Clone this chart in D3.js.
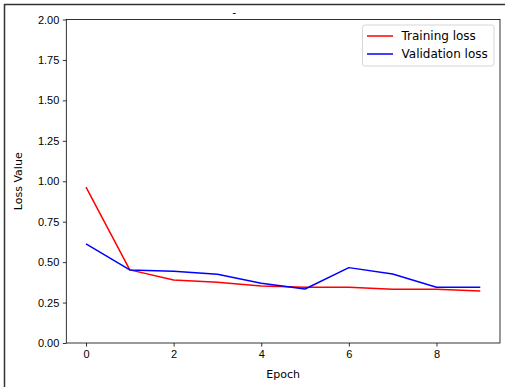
<!DOCTYPE html>
<html>
<head>
<meta charset="utf-8">
<script src="https://cdn.jsdelivr.net/npm/d3@7"></script>
<style>
  body { margin: 0; background: #fff; }
  svg { display: block; font-family: "DejaVu Sans", sans-serif; }
</style>
</head>
<body>
<svg id="chart" width="505" height="387"></svg>
<script>
// Data
const epochs = [0, 1, 2, 3, 4, 5, 6, 7, 8, 9];
const trainingLoss = [0.964, 0.452, 0.39, 0.375, 0.353, 0.345, 0.345, 0.332, 0.332, 0.322];
const validationLoss = [0.613, 0.452, 0.443, 0.425, 0.37, 0.334, 0.466, 0.427, 0.345, 0.345];
const xTicks = [0, 2, 4, 6, 8];
const yTicks = [0, 0.25, 0.5, 0.75, 1.0, 1.25, 1.5, 1.75, 2.0];

const series = [
    { name: "Training loss", values: trainingLoss, color: "#ff0000" },
    { name: "Validation loss", values: validationLoss, color: "#0000ff" }
];

const margin = { top: 19.5, right: 5, bottom: 44, left: 66.3 };
const W = 505, H = 387;
const width = W - margin.left - margin.right;
const height = H - margin.top - margin.bottom;

const svg = d3.select("#chart");

// outer frame (top and left edges visible)
svg.append("line").attr("x1", 4).attr("x2", W).attr("y1", 4.5).attr("y2", 4.5)
    .attr("stroke", "#333").attr("stroke-width", 1.5);
svg.append("line").attr("x1", 4.5).attr("x2", 4.5).attr("y1", 4).attr("y2", H)
    .attr("stroke", "#333").attr("stroke-width", 1.5);

const g = svg.append("g").attr("transform", `translate(${margin.left},${margin.top})`);

// matplotlib-style 5% margin on x
const x = d3.scaleLinear().domain([-0.45, 9.45]).range([0, width]);
const y = d3.scaleLinear().domain([0, 2]).range([height, 0]);

// lines
const line = d3.line().x((d, i) => x(epochs[i])).y(d => y(d));
series.forEach(s => {
    g.append("path")
        .datum(s.values)
        .attr("d", line)
        .attr("fill", "none")
        .attr("stroke", s.color)
        .attr("stroke-width", 1.5)
        .attr("stroke-linejoin", "round");
});

// axes
const xAxis = g.append("g")
    .attr("transform", `translate(0,${height})`)
    .call(d3.axisBottom(x).tickValues(xTicks).tickSize(3.5).tickPadding(3.5).tickFormat(d3.format("d")));
const yAxis = g.append("g")
    .call(d3.axisLeft(y).tickValues(yTicks).tickSize(3.5).tickPadding(3.5).tickFormat(d3.format(".2f")));
[xAxis, yAxis].forEach(a => {
    a.select(".domain").remove();
    a.selectAll("line").attr("stroke", "#000").attr("stroke-width", 0.8);
    a.selectAll("text").attr("fill", "#000").style("font-size", "11px");
});

// spines
g.append("rect")
    .attr("x", 0).attr("y", 0).attr("width", width).attr("height", height)
    .attr("fill", "none").attr("stroke", "#000").attr("stroke-width", 0.8);

// axis labels
svg.append("text")
    .attr("x", margin.left + width / 2).attr("y", 378)
    .attr("text-anchor", "middle").style("font-size", "11px")
    .text("Epoch");
svg.append("text")
    .attr("transform", `translate(22,${margin.top + height / 2}) rotate(-90)`)
    .attr("text-anchor", "middle").style("font-size", "11px")
    .text("Loss Value");

// tiny title mark
svg.append("text")
    .attr("x", margin.left + width / 2 - 49).attr("y", 16)
    .attr("text-anchor", "middle").style("font-size", "11px")
    .text("-");

// legend
const legend = svg.append("g").attr("transform", "translate(362.5,25)");
legend.append("rect")
    .attr("width", 131.5).attr("height", 41).attr("rx", 2.5)
    .attr("fill", "#fff").attr("fill-opacity", 0.8)
    .attr("stroke", "#ccc").attr("stroke-width", 0.8);
series.forEach((s, i) => {
    const item = legend.append("g").attr("transform", `translate(0,${11 + i * 18})`);
    item.append("line").attr("x1", 4.5).attr("x2", 30.5).attr("y1", 0).attr("y2", 0)
        .attr("stroke", s.color).attr("stroke-width", 1.5);
    item.append("text").attr("x", 39).attr("y", 0).attr("dy", "0.35em")
        .style("font-size", "12px").text(s.name);
});
</script>
</body>
</html>
